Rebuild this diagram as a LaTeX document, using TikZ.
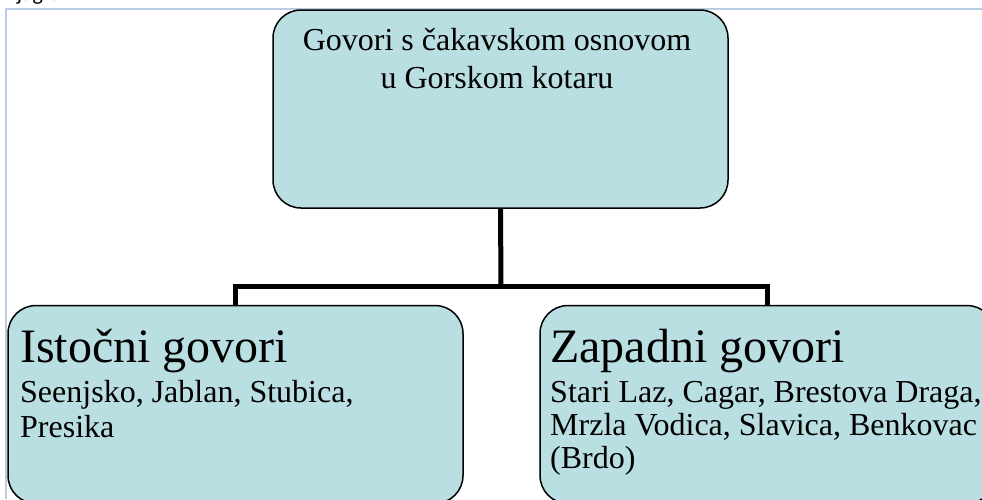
\documentclass[tikz,border=0pt]{standalone}
\usepackage{fontspec}
\setmainfont{Liberation Serif}
\newfontfamily\captfont{Carlito}
\definecolor{boxfill}{RGB}{186,223,227}
\definecolor{framecol}{RGB}{184,204,228}
\tikzset{
  gbox/.style={draw=black, line width=1.5pt, fill=boxfill, rounded corners=28pt,
    minimum width=455pt, minimum height=198pt, inner sep=0pt},
  conn/.style={draw=black, line width=5pt, line join=miter},
  small/.style={font=\fontsize{32}{38}\selectfont, inner sep=0pt},
  big/.style={font=\fontsize{48}{56}\selectfont, inner sep=0pt},
}
\begin{document}
\begin{tikzpicture}[x=1pt,y=-1pt]
\useasboundingbox (0,0) rectangle (982,499);
\clip (0,0) rectangle (982,499);
% cut-off caption at the top
\node[font=\captfont\fontsize{22}{26}\selectfont, anchor=base west, inner sep=0pt] (capt) at (-2,0) {Dijagram};
% frame
\draw[framecol, line width=1.5pt] (982,9) -- (6,9) -- (6,499);
% boxes
\node[gbox] (top) at (500.5,109) {};
\node[gbox] (left) at (235.5,404.5) {};
\node[gbox] (right) at (767.5,404.5) {};
% connectors
\coordinate (bus) at (501,286);
\draw[conn] (top.south) -- (bus);
\draw[conn] (left.north) |- (bus) -| (right.north);
% texts
\node[small, anchor=base] (t1) at (497,50) {Govori s čakavskom osnovom};
\node[small, anchor=base] (t2) at (497,88) {u Gorskom kotaru};
\node[big, anchor=base west] (l1) at (20,362) {Istočni govori};
\node[small, anchor=base west] (l2) at (20,402) {Seenjsko, Jablan, Stubica,};
\node[small, anchor=base west] (l3) at (20,437) {Presika};
\node[big, anchor=base west] (r1) at (550,362) {Zapadni govori};
\node[small, anchor=base west] (r2) at (550,402) {Stari Laz, Cagar, Brestova Draga,};
\node[small, anchor=base west] (r3) at (550,435) {Mrzla Vodica, Slavica, Benkovac};
\node[small, anchor=base west] (r4) at (550,468) {(Brdo)};
\end{tikzpicture}
\end{document}
